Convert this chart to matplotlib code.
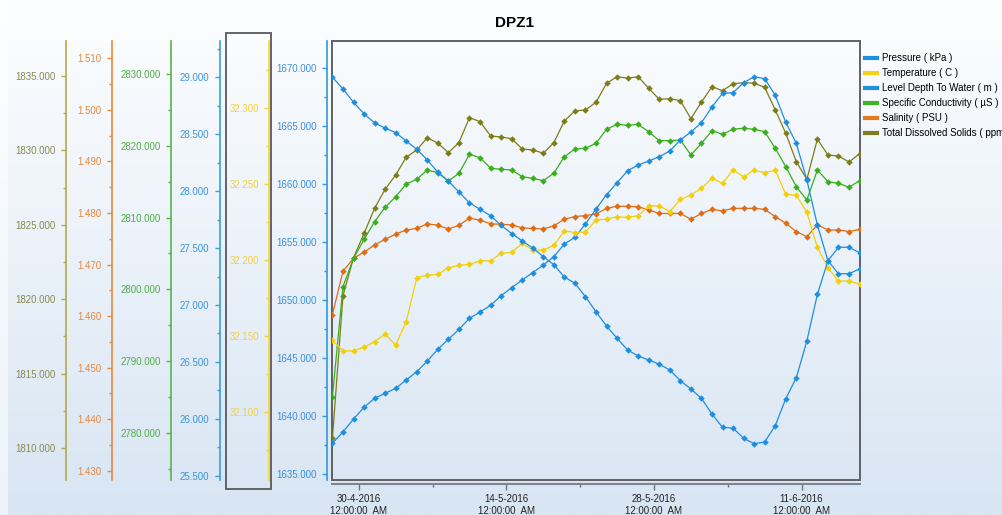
import matplotlib
matplotlib.use('Agg')
import matplotlib.pyplot as plt
import numpy as np
import pandas as pd
from matplotlib.colors import LinearSegmentedColormap
from matplotlib.lines import Line2D
from matplotlib.patches import Rectangle
from matplotlib.ticker import MultipleLocator, AutoMinorLocator, FormatStrFormatter

plt.rcParams['font.family'] = ['Liberation Sans', 'DejaVu Sans']

# daily readings
dates = pd.date_range('2016-04-27 12:00', periods=51, freq='D').to_pydatetime()

pressure = [1669.17, 1668.16, 1667.01, 1666.03, 1665.23, 1664.80, 1664.40, 1663.68, 1662.97, 1662.05,
            1660.99, 1660.24, 1659.29, 1658.37, 1657.81, 1657.25, 1656.43, 1655.72, 1655.08, 1654.48,
            1653.73, 1653.04, 1651.98, 1651.44, 1650.28, 1648.99, 1647.76, 1646.70, 1645.70, 1645.18,
            1644.84, 1644.47, 1643.98, 1643.06, 1642.34, 1641.54, 1640.19, 1639.04, 1638.98, 1638.10,
            1637.63, 1637.78, 1639.18, 1641.51, 1643.31, 1646.47, 1650.49, 1653.38, 1654.54, 1654.54,
            1654.07]
temperature = [32.1474, 32.1405, 32.1405, 32.1428, 32.1466, 32.1514, 32.1443, 32.1596, 32.1886, 32.1903,
               32.1908, 32.1951, 32.1967, 32.1974, 32.1997, 32.1997, 32.2046, 32.2053, 32.2112, 32.2068,
               32.2068, 32.2099, 32.2194, 32.2183, 32.2186, 32.2265, 32.2272, 32.2287, 32.2283, 32.2293,
               32.2359, 32.2359, 32.2320, 32.2401, 32.2430, 32.2474, 32.2539, 32.2507, 32.2594, 32.2550,
               32.2594, 32.2576, 32.2594, 32.2434, 32.2428, 32.2316, 32.2086, 32.1951, 32.1864, 32.1864,
               32.1844]
level = [25.785, 25.884, 25.998, 26.101, 26.180, 26.224, 26.268, 26.341, 26.414, 26.508,
         26.611, 26.699, 26.786, 26.883, 26.938, 26.997, 27.082, 27.152, 27.220, 27.284,
         27.351, 27.424, 27.536, 27.595, 27.712, 27.844, 27.969, 28.075, 28.180, 28.230,
         28.265, 28.303, 28.353, 28.450, 28.520, 28.602, 28.740, 28.860, 28.866, 28.953,
         29.006, 28.989, 28.843, 28.605, 28.421, 28.098, 27.703, 27.389, 27.275, 27.275,
         27.316]
conductivity = [2785.02, 2800.36, 2804.32, 2806.95, 2809.43, 2811.44, 2812.91, 2814.69, 2815.34, 2816.64,
                2816.26, 2815.10, 2816.18, 2818.83, 2818.35, 2816.88, 2816.74, 2816.64, 2815.70, 2815.48,
                2815.15, 2816.18, 2818.49, 2819.57, 2819.67, 2820.36, 2822.32, 2823.01, 2822.87, 2823.01,
                2821.98, 2820.73, 2820.73, 2820.82, 2818.73, 2820.36, 2822.12, 2821.62, 2822.32, 2822.46,
                2822.32, 2821.98, 2819.67, 2817.10, 2814.31, 2812.45, 2816.64, 2815.01, 2814.78, 2814.23,
                2815.15]
salinity = [1.4603, 1.4687, 1.4712, 1.4724, 1.4738, 1.4749, 1.4759, 1.4767, 1.4770, 1.4779,
            1.4776, 1.4769, 1.4776, 1.4790, 1.4786, 1.4779, 1.4778, 1.4777, 1.4771, 1.4770,
            1.4769, 1.4775, 1.4788, 1.4793, 1.4795, 1.4798, 1.4809, 1.4813, 1.4813, 1.4812,
            1.4806, 1.4799, 1.4799, 1.4799, 1.4788, 1.4799, 1.4807, 1.4804, 1.4809, 1.4809,
            1.4809, 1.4807, 1.4793, 1.4780, 1.4764, 1.4754, 1.4777, 1.4767, 1.4767, 1.4764,
            1.4768]
tds = [1810.65, 1820.24, 1822.79, 1824.42, 1826.11, 1827.39, 1828.35, 1829.54, 1830.03, 1830.85,
       1830.48, 1829.85, 1830.52, 1832.20, 1831.93, 1830.97, 1830.90, 1830.79, 1830.09, 1830.03,
       1829.81, 1830.52, 1831.98, 1832.65, 1832.72, 1833.23, 1834.51, 1834.95, 1834.85, 1834.95,
       1834.17, 1833.43, 1833.47, 1833.34, 1832.13, 1833.25, 1834.28, 1834.01, 1834.48, 1834.55,
       1834.51, 1834.24, 1832.72, 1831.15, 1829.24, 1828.06, 1830.75, 1829.69, 1829.62, 1829.22,
       1829.78]

labels = ['Pressure ( kPa )', 'Temperature ( C )', 'Level Depth To Water ( m )',
          'Specific Conductivity ( µS )', 'Salinity ( PSU )', 'Total Dissolved Solids ( ppm )']
major_dates = ['2016-04-30', '2016-05-14', '2016-05-28', '2016-06-11']

W, H = 1002, 515
fig = plt.figure(figsize=(W / 100, H / 100), dpi=100)


def fx(px):
    return px / W


def fy(py):
    return 1 - py / H


# background gradient
bg = fig.add_axes([0, 0, 1, 1], zorder=-10)
cmap = LinearSegmentedColormap.from_list('bg', ['#fdfeff', '#d8e5f3'])
bg.imshow(np.linspace(0, 1, 256).reshape(-1, 1), aspect='auto', cmap=cmap,
          extent=[0, 1, 0, 1], origin='upper')
bg.add_patch(Rectangle((0, 0), 8 / W, 1, color='white', alpha=0.55, lw=0))
bg.set_xlim(0, 1)
bg.set_ylim(0, 1)
bg.axis('off')

L, R, T, B = 332, 860, 41, 480
ax = fig.add_axes([fx(L), fy(B), (R - L) / W, (B - T) / H])
ax.patch.set_alpha(0)
ax.yaxis.set_visible(False)
for s in ['left', 'right', 'top']:
    ax.spines[s].set_visible(False)
ax.spines['bottom'].set_position(('outward', 3))
ax.spines['bottom'].set_color('#80868f')
ax.spines['bottom'].set_linewidth(1.5)
ax.add_patch(Rectangle((0, 0), 1, 1, transform=ax.transAxes, fill=False,
                       ec='#5f6166', lw=1.4, clip_on=False, zorder=0))

mdates = pd.to_datetime(major_dates).to_pydatetime()
ax.set_xlim(dates[0] - pd.Timedelta(hours=1), dates[-1] + pd.Timedelta(hours=1))
ax.set_xticks(mdates)
ax.set_xticks([d + pd.Timedelta(days=7) for d in mdates[:-1]], minor=True)
ax.set_xticklabels([f'{d.day}-{d.month}-{d.year}\n12:00:00  AM' for d in mdates])
ax.tick_params(axis='x', which='major', length=4.5, width=1, color='#6f747c',
               labelsize=7, labelcolor='#222222', pad=2.8)
ax.tick_params(axis='x', which='minor', length=2, width=1, color='#6f747c')

# (series, spine x px, ylim, major step, line colour, spine colour, text colour)
specs = [
    (tds, 66, (1807.85, 1837.35), 5, '#7d7d18', '#b5aa48', '#8a8a4e'),
    (salinity, 111.7, (1.4282, 1.51336), 0.01, '#e06c14', '#e68a3c', '#e8873e'),
    (conductivity, 171.3, (2773.40, 2834.63), 10, '#3aae1c', '#5ab446', '#52ad4a'),
    (level, 219.7, (25.462, 29.320), 0.5, '#1e8ee0', '#38a0e0', '#3a96dc'),
    (temperature, 269, (32.0555, 32.3443), 0.05, '#f2cf0a', '#f4d43c', '#f3d040'),
    (pressure, 327.3, (1634.51, 1672.29), 5, '#1e8ee0', '#2c9ce0', '#3a8fdc'),
]

for vals, xpos, ylim, step, lc, sc, tc in specs:
    tw = ax.twinx()
    tw.plot(dates, vals, color=lc, lw=0.9, marker='D', ms=3.3, mew=0)
    tw.set_ylim(*ylim)
    for s in ['right', 'top', 'bottom']:
        tw.spines[s].set_visible(False)
    tw.spines['left'].set_visible(True)
    tw.spines['left'].set_position(('axes', (xpos - L) / (R - L)))
    tw.spines['left'].set_color(sc)
    tw.spines['left'].set_linewidth(1.2)
    tw.yaxis.set_ticks_position('left')
    tw.yaxis.set_label_position('left')
    tw.yaxis.set_major_locator(MultipleLocator(step))
    tw.yaxis.set_minor_locator(AutoMinorLocator(2))
    tw.yaxis.set_major_formatter(FormatStrFormatter('%.3f'))
    tw.tick_params(axis='y', which='major', length=3.8, width=1, color=sc,
                   labelcolor=tc, labelsize=7, pad=3.5)
    tw.tick_params(axis='y', which='minor', length=2, width=1, color=sc)

# box around the selected temperature axis
fig.add_artist(Rectangle((fx(226), fy(489)), 45 / W, 456 / H, transform=fig.transFigure,
                         fill=False, ec='#57595e', lw=1.3))

fig.text(fx(515), fy(23), 'DPZ1', ha='center', va='center', fontsize=11, fontweight='bold')

leg_colors = ['#1e90e0', '#f7d21a', '#1e90e0', '#3cb624', '#e67820', '#7d7d1e']
handles = [Line2D([], [], color=c, lw=3) for c in leg_colors]
fig.legend(handles, labels, loc='upper left', bbox_to_anchor=(fx(865), fy(53)),
           frameon=False, fontsize=7, handlelength=1.25, handletextpad=0.5,
           labelspacing=0.52, borderpad=0, borderaxespad=0)

fig.savefig('out.png', dpi=100)
